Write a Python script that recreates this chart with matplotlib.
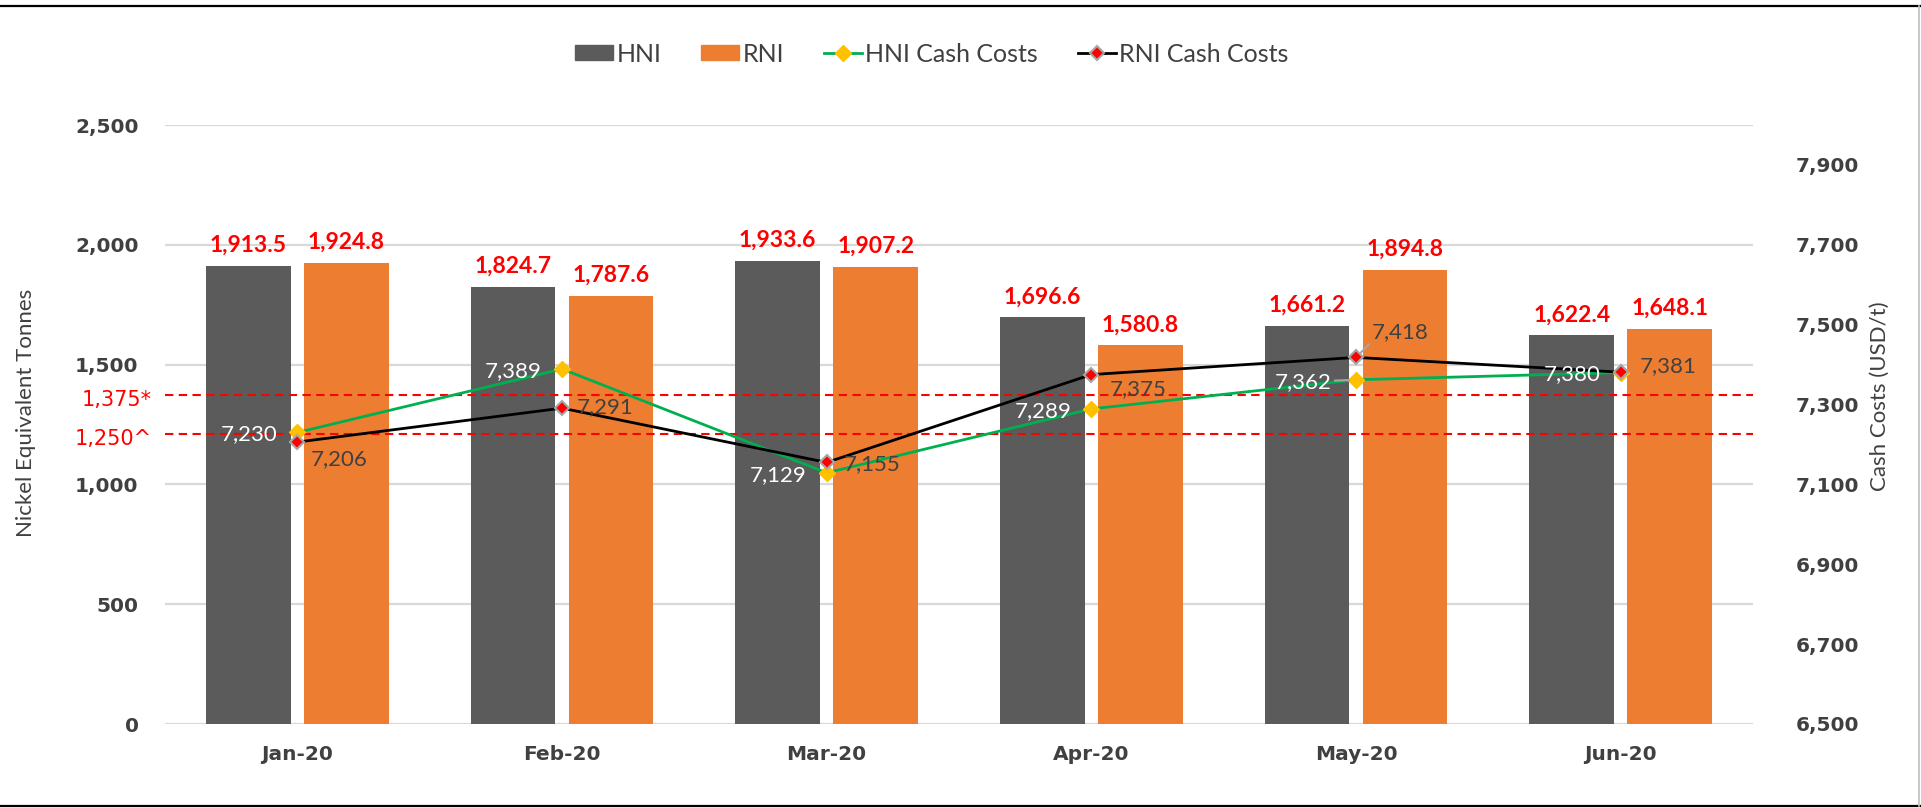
import matplotlib
matplotlib.use('Agg')
import matplotlib.pyplot as plt
import matplotlib.transforms as mtransforms
from matplotlib.lines import Line2D
from matplotlib.patches import Patch
import numpy as np

# ---------------- data ----------------
months = ['Jan-20', 'Feb-20', 'Mar-20', 'Apr-20', 'May-20', 'Jun-20']
hni_tonnes = [1913.5, 1824.7, 1933.6, 1696.6, 1661.2, 1622.4]
rni_tonnes = [1924.8, 1787.6, 1907.2, 1580.8, 1894.8, 1648.1]
hni_cash = [7230, 7389, 7129, 7289, 7362, 7380]
rni_cash = [7206, 7291, 7155, 7375, 7418, 7381]
target_labels = ['1,375*', '1,250^']
target_lines = [1375, 1212]  # where the dashed guide lines are drawn in the source chart
left_ticks = [0, 500, 1000, 1500, 2000, 2500]
right_ticks = [6500, 6700, 6900, 7100, 7300, 7500, 7700, 7900]

# ---------------- style ----------------
GRAY_TXT = '#404040'
C_HNI = '#5B5B5B'
C_RNI = '#ED7D31'
FONT = 'Lato'
TICKFONT = 'DejaVu Sans'

W, H = 1921, 808
fig = plt.figure(figsize=(W / 100, H / 100), dpi=100)
fig.patch.set_facecolor('white')

x0, x1, ytop, ybot = 165, 1753, 125, 724
ax = fig.add_axes([x0 / W, 1 - ybot / H, (x1 - x0) / W, (ybot - ytop) / H])
ax2 = ax.twinx()

x = np.arange(len(months))
bw, off = 0.32, 0.185
b1 = ax.bar(x - off, hni_tonnes, bw, color=C_HNI, zorder=2)
b2 = ax.bar(x + off, rni_tonnes, bw, color=C_RNI, zorder=2)

ax.set_xlim(-0.5, len(months) - 0.5)
ax.set_ylim(0, 2500)
ax2.set_ylim(6500, 8000)
ax.set_yticks(left_ticks)
ax2.set_yticks(right_ticks)
ax.set_xticks(x)
ax.set_xticklabels(months)
ax.set_yticklabels([f'{v:,}' for v in left_ticks])
ax2.set_yticklabels([f'{v:,}' for v in right_ticks])

ax.set_axisbelow(True)
ax.yaxis.grid(True, color='#D9D9D9', lw=1.6, zorder=0)
for a in (ax, ax2):
    for s in a.spines.values():
        s.set_visible(False)
    a.tick_params(length=0)

for lab in ax.get_yticklabels() + ax2.get_yticklabels() + ax.get_xticklabels():
    lab.set_fontfamily(TICKFONT)
    lab.set_fontweight('bold')
    lab.set_fontsize(14.5)
    lab.set_color(GRAY_TXT)
ax.tick_params(axis='y', pad=19)
ax2.tick_params(axis='y', pad=31)
ax.tick_params(axis='x', pad=15)

# target dashed lines
trans = mtransforms.blended_transform_factory(ax.transAxes, ax.transData)
for lvl, lab in zip(target_lines, target_labels):
    ax.axhline(lvl, color='#FF0000', lw=1.5, ls=(0, (4, 2.6)), zorder=3)
    ax.annotate(lab, xy=(0, lvl), xycoords=trans, xytext=(-13, -3),
                textcoords='offset pixels', ha='right', va='center_baseline',
                color='#FF0000', fontsize=15, fontfamily=TICKFONT)

# bar labels
for bars, vals in ((b1, hni_tonnes), (b2, rni_tonnes)):
    for rect, v in zip(bars, vals):
        ax.annotate(f'{v:,.1f}', xy=(rect.get_x() + rect.get_width() / 2, v),
                    xytext=(0, 14), textcoords='offset pixels', ha='center',
                    va='baseline', color='#FF0000', fontsize=16.5,
                    fontweight='bold', fontfamily=FONT, zorder=5)

# cash cost lines
ax2.plot(x, hni_cash, color='#00B050', lw=2, marker='D', ms=8.5,
         mfc='#FFC000', mec='#FFC000', zorder=3, label='HNI Cash Costs')
ax2.plot(x, rni_cash, color='black', lw=2, marker='D', ms=7.5,
         mfc='#FF0000', mec='#A6A6A6', mew=1.5, zorder=4, label='RNI Cash Costs')

hni_off = [(-20, 0), (-20, 0), (-20, 0), (-20, 0), (-24, 0), (-20, 0)]
rni_off = [(13, -15), (15, 3), (17, 0), (18, -13), (16, 27), (19, 8)]
for i, v in enumerate(hni_cash):
    kw = {}
    if i == 4:
        kw = dict(arrowprops=dict(arrowstyle='-', color='#A6A6A6', lw=1.5,
                                  shrinkA=0, shrinkB=5))
    ax2.annotate(f'{v:,}', xy=(x[i], v), xytext=hni_off[i], textcoords='offset pixels',
                 ha='right', va='center_baseline', color='white', fontsize=16,
                 fontfamily=FONT, zorder=6, **kw)
for i, v in enumerate(rni_cash):
    kw = {}
    if i == 4:
        kw = dict(arrowprops=dict(arrowstyle='-', color='#A6A6A6', lw=1.5,
                                  shrinkA=0, shrinkB=5, relpos=(0.05, 0.2)))
    ax2.annotate(f'{v:,}', xy=(x[i], v), xytext=rni_off[i], textcoords='offset pixels',
                 ha='left', va='center_baseline', color=GRAY_TXT, fontsize=16,
                 fontfamily=FONT, zorder=6, **kw)

# axis titles
fig.text(26 / W, 1 - 413 / H, 'Nickel Equivalent Tonnes', rotation=90, ha='center',
         va='center', fontsize=16, fontfamily=FONT, color=GRAY_TXT)
fig.text(1880 / W, 1 - 396 / H, 'Cash Costs (USD/t)', rotation=90, ha='center',
         va='center', fontsize=16, fontfamily=FONT, color=GRAY_TXT)

# legend
handles = [Patch(color=C_HNI), Patch(color=C_RNI),
           Line2D([], [], color='#00B050', lw=2, marker='D', ms=8.5, mfc='#FFC000', mec='#FFC000'),
           Line2D([], [], color='black', lw=2, marker='D', ms=7.5, mfc='#FF0000', mec='#A6A6A6', mew=1.5)]
labels = ['HNI', 'RNI', 'HNI Cash Costs', 'RNI Cash Costs']
fig.legend(handles, labels, loc='center', bbox_to_anchor=(932 / W, 1 - 54 / H), ncol=4,
           frameon=False, prop=dict(family=FONT, size=18), labelcolor=GRAY_TXT,
           handlelength=1.5, handleheight=0.55, handletextpad=0.15, columnspacing=1.6)

# frame lines
fig.add_artist(Line2D([0, 1], [1 - 6 / H] * 2, color='black', lw=1.6, transform=fig.transFigure))
fig.add_artist(Line2D([0, 1], [1 - 806 / H] * 2, color='black', lw=1.6, transform=fig.transFigure))
fig.add_artist(Line2D([1919 / W] * 2, [1 - 6 / H, 1 - 806 / H], color='#BFBFBF', lw=1.2,
                      transform=fig.transFigure))

fig.savefig('out.png', dpi=100, facecolor='white')
